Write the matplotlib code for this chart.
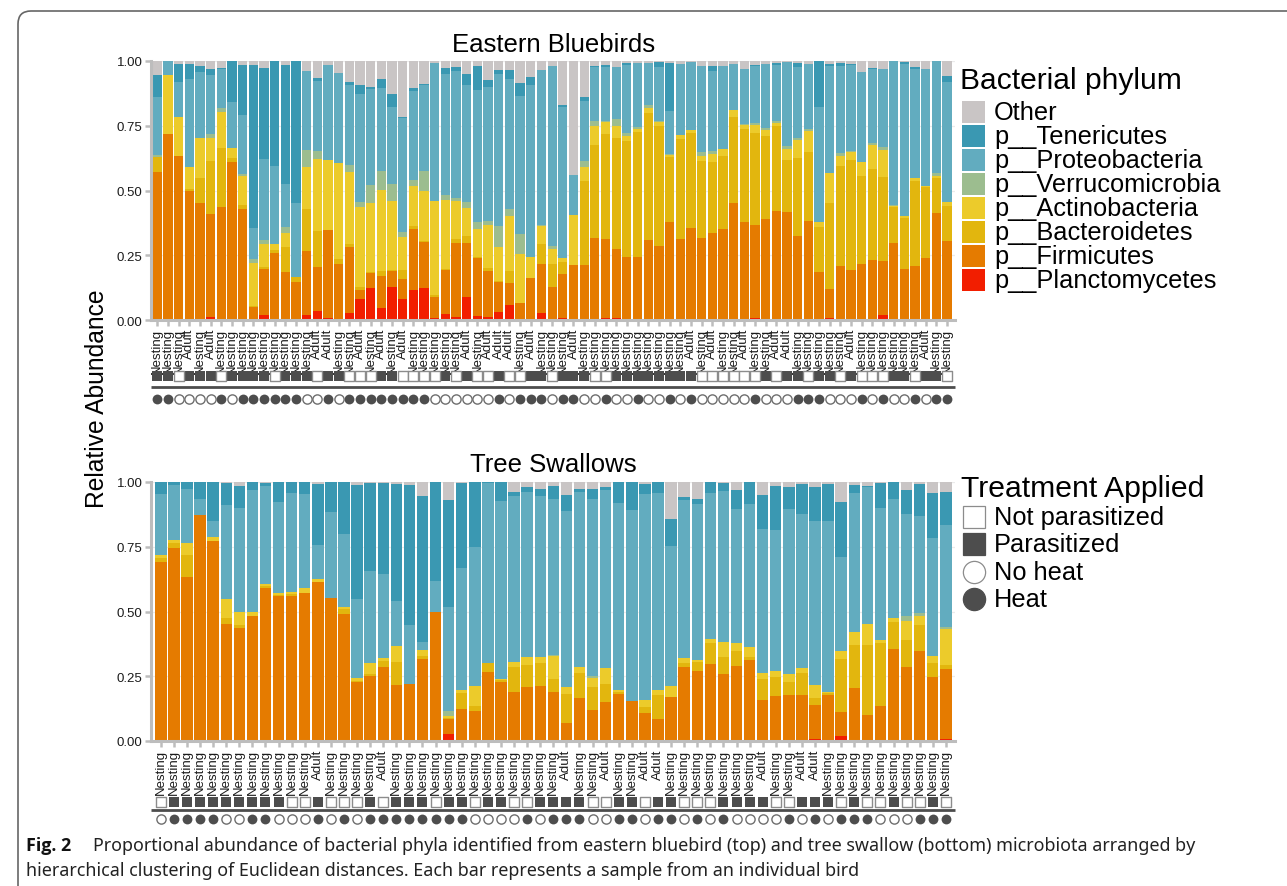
import numpy as np
import matplotlib.pyplot as plt
from matplotlib.lines import Line2D
from matplotlib.patches import FancyBboxPatch, Rectangle

plt.rcParams["font.family"] = ["Liberation Sans", "DejaVu Sans"]

W, H = 1287, 887

# phyla from the bottom of each stack upwards ("Other" fills to 1.0)
phyla = ["p__Planctomycetes", "p__Firmicutes", "p__Bacteroidetes", "p__Actinobacteria",
         "p__Verrucomicrobia", "p__Proteobacteria", "p__Tenericutes"]
phylum_colors = ["#f21e00", "#e57b00", "#e2b60e", "#eccb2b", "#9cbd8f", "#62acbf", "#3a98b2"]
other_color = "#c9c5c5"

# Eastern bluebirds - upper edge of each stacked segment
bb_planc = [0, 0, 0, 0, 0, .01, 0, 0, 0, 0, .02, 0, 0, 0, .02, .036, .008, 0, .028, .081,
            .124, .046, .129, .081, .117, .124, .008, .023, .01, .09, .015, .01, .032, .059, 0,
            0, .028, 0, .008, 0, 0, 0, .008, .008, 0, 0, 0, 0, 0, 0,
            0, 0, 0, 0, 0, 0, .008, 0, 0, 0, 0, 0, 0, .008, 0, 0, 0, 0, .019, 0,
            0, 0, 0, 0, 0]
bb_firm = [.573, .718, .635, .499, .452, .409, .436, .611, .429, .049, .197, .259, .185, .147, .268,
           .206, .349, .216, .283, .117, .18, .171, .19, .158, .351, .302, .09, .194, .297, .297,
           .239, .19, .145, .143, .066, .162, .216, .129, .178, .212, .212, .317, .313, .274, .245,
           .245, .309, .287, .38, .313, .355, .317, .336, .351, .452, .38, .367, .39, .422, .418,
           .326, .384, .187, .12, .21, .193, .216, .232, .229, .297, .197, .21, .239, .413, .306]
bb_bact = [.628, .718, .635, .506, .548, .615, .663, .625, .444, .053, .203, .27, .283, .166, .429,
           .345, .349, .236, .293, .129, .184, .19, .194, .193, .364, .306, .098, .197, .313, .326,
           .245, .201, .149, .188, .066, .162, .293, .216, .223, .212, .538, .677, .718, .703, .69,
           .725, .798, .75, .631, .699, .721, .613, .609, .632, .785, .737, .721, .712, .75, .618,
           .625, .647, .36, .452, .596, .618, .557, .583, .551, .435, .393, .538, .512, .547, .441]
bb_actino = [.628, .947, .785, .592, .703, .703, .804, .664, .557, .22, .293, .293, .336, .166, .592,
             .622, .618, .606, .573, .435, .452, .502, .461, .322, .518, .499, .461, .465, .458, .432,
             .351, .367, .283, .403, .255, .245, .364, .274, .239, .405, .589, .75, .763, .75, .712,
             .737, .819, .763, .638, .714, .734, .635, .641, .66, .811, .753, .754, .734, .761, .66,
             .695, .728, .38, .566, .635, .647, .611, .677, .656, .441, .403, .548, .519, .557, .457]
bb_verru = [.637, .947, .785, .592, .703, .718, .819, .664, .564, .236, .309, .293, .358, .166, .656,
            .651, .618, .606, .598, .457, .521, .577, .525, .341, .541, .574, .461, .483, .471, .457,
            .38, .384, .364, .429, .332, .245, .368, .286, .241, .405, .613, .77, .77, .776, .721,
            .746, .83, .77, .641, .714, .734, .647, .651, .66, .811, .757, .761, .741, .767, .671,
            .703, .737, .38, .566, .644, .654, .611, .683, .667, .445, .403, .548, .519, .568, .457]
bb_proteo = [.86, 1.0, .919, .93, .956, .947, .969, .843, .792, .355, .622, .595, .525, .452, .963,
             .924, .985, .952, .907, .873, .892, .896, .824, .78, .883, .907, .991, .95, .96, .907,
             .889, .901, .95, .931, .866, .909, .967, .979, .824, .561, .847, .976, .976, .976, .986,
             .991, .992, .978, .808, .988, .995, .982, .96, .979, .988, .969, .979, .988, .986, .995,
             .978, .988, .824, .982, .982, .986, .959, .969, .969, 1.0, .988, .969, .969, 1.0, .918]
bb_tener = [.947, 1.0, .988, .988, .981, .969, .973, 1.0, .985, .985, .973, 1.0, .985, 1.0, .963,
            .933, .985, .952, .919, .907, .901, .931, .873, .782, .894, .911, .991, .973, .976, .95,
            .979, .927, .965, .965, .915, .94, .967, .979, .83, .561, .86, .98, .986, .976, .991,
            .991, .992, .997, .992, .988, .995, .982, .979, .979, .988, .969, .985, .99, .992, .995,
            .992, .99, 1.0, .988, .992, .99, .959, .973, .969, 1.0, .995, .976, .969, 1.0, .943]
# N = Nesting, A = Adult; 1 = parasitized / heat
bb_age = ("NNNANA" "NNNNNNNNN" "AANNANANA" "NNNNN" "ANAAANANNNA" "NNNNNNNNNN"
          "ANANNANNAA" "NNNNN" "ANNNNNNANN")
bb_parasit = ("1101110111" "1011101100" "0110000101" "00100110" "11" "1001111111"
              "1000000101" "1011010001" "10110")
bb_heat = ("1100001011" "1111001011" "1111110000" "00101110" "11" "0010010010"
           "1000001000" "1110001010" "01011")

# Tree swallows
ts_planc = ([0] * 18 + [.004, 0, 0, 0, .028, 0, 0, 0, 0, 0, 0, .004] + [0] * 20
            + [.008, 0, .019] + [0] * 7 + [.008])
ts_firm = [.691, .744, .632, .872, .773, .453, .438, .482, .589, .558, .558, .57, .614, .552, .492,
           .229, .252, .287, .217, .221, .318, .497, .085, .124, .116, .265, .226, .19, .207, .214,
           .19, .071, .167, .12, .151, .182, .155, .109, .085, .171, .287, .271, .298, .26, .291,
           .314, .159, .174, .178, .178, .14, .178, .112, .205, .101, .136, .357, .287, .349, .248, .279]
ts_bact = [.705, .766, .717, .872, .773, .473, .447, .482, .598, .565, .568, .57, .614, .552, .508,
           .233, .26, .31, .306, .221, .33, .497, .09, .187, .137, .3, .234, .287, .292, .302,
           .24, .182, .264, .207, .221, .191, .155, .132, .178, .171, .3, .306, .38, .326, .349,
           .326, .24, .248, .229, .264, .167, .186, .318, .372, .372, .38, .461, .391, .446, .302, .295]
ts_actino = [.717, .776, .764, .872, .788, .547, .497, .497, .605, .57, .575, .589, .624, .552, .519,
             .245, .3, .322, .368, .221, .353, .497, .098, .198, .214, .3, .238, .306, .323, .326,
             .327, .209, .287, .244, .282, .198, .155, .159, .198, .213, .319, .314, .395, .384, .38,
             .364, .264, .271, .258, .283, .217, .19, .349, .419, .45, .391, .473, .465, .484, .329, .434]
ts_verru = [.717, .776, .764, .872, .788, .55, .497, .497, .607, .57, .575, .589, .624, .552, .519,
            .245, .3, .322, .368, .221, .353, .497, .116, .198, .214, .3, .238, .306, .323, .326,
            .333, .209, .287, .252, .282, .198, .155, .159, .198, .213, .319, .314, .395, .384, .38,
            .364, .264, .271, .258, .283, .217, .19, .349, .419, .453, .391, .473, .484, .496, .329, .442]
ts_proteo = [.953, .988, .973, .934, .85, .912, .899, .97, .984, .922, .957, .953, .756, .885, .798,
             .55, .655, .643, .539, .446, .381, .618, .516, .667, .749, .996, .926, .946, .961, .946,
             .934, .888, .961, .934, .969, .919, .891, .953, .957, .752, .93, .915, .957, .965, .895,
             .915, .818, .814, .895, .876, .849, .849, .709, .957, .981, .899, .934, .876, .868, .783, .833]
ts_tener = [1.0, 1.0, 1.0, 1.0, 1.0, .996, .984, 1.0, .996, 1.0, 1.0, 1.0, .992, 1.0, 1.0,
            .988, .996, .996, .992, .988, .946, 1.0, .93, .996, 1.0, 1.0, 1.0, .961, .981, .973,
            .984, .95, .973, .973, .981, 1.0, 1.0, .992, 1.0, .857, .942, .934, 1.0, .996, .969,
            1.0, .95, .984, .981, .992, .981, .992, .922, .988, .984, .996, 1.0, .969, .992, .957, .961]
ts_age = ("NNNNNNNNNNNN" "A" "NNNN" "A" "NNNNNNNNNNNNN" "A" "NN" "A" "NN" "AA"
          "NNNNNNN" "A" "NN" "AA" "NNNNNNNNNN")
ts_parasit = ("0111111111" "0010001011" "1011011001" "1110011011" "0001111001"
              "1101001001" "0")
ts_heat = ("0111100110" "0010101111" "1111000010" "1110011011" "0101000010"
           "1011100011" "1")

age_names = {"N": "Nesting", "A": "Adult"}
dark = "#4d4d4d"
axis_grey = "#bdbdbd"

fig = plt.figure(figsize=(W / 100, H / 100), dpi=100)


def draw_panel(rect, cum_tops, age, parasit, heat, xlim, y_sq, y_line, y_circ):
    ax = fig.add_axes(rect)
    n = len(age)
    x = np.arange(n)
    bottom = np.zeros(n)
    for top, color in zip(cum_tops, phylum_colors):
        top = np.asarray(top, dtype=float)
        ax.bar(x, top - bottom, bottom=bottom, width=0.87, color=color, linewidth=0, zorder=2)
        bottom = top
    ax.bar(x, 1.0 - bottom, bottom=bottom, width=0.87, color=other_color, linewidth=0, zorder=2)

    ax.set_xlim(*xlim)
    ax.set_ylim(0, 1)
    ax.set_yticks([0, .25, .5, .75, 1.0], ["0.00", "0.25", "0.50", "0.75", "1.00"])
    ax.set_xticks(x, [age_names[c] for c in age], rotation=90)
    ax.tick_params(axis="y", labelsize=9.5, length=4, width=1.8, color=axis_grey,
                   labelcolor="#1a1a1a", pad=2)
    ax.tick_params(axis="x", labelsize=9.5, length=4, width=1.8, color=axis_grey,
                   labelcolor="#1a1a1a", pad=1.5)
    for s in ["top", "right"]:
        ax.spines[s].set_visible(False)
    for s in ["left", "bottom"]:
        ax.spines[s].set_color(axis_grey)
        ax.spines[s].set_linewidth(2.2)
    ax.set_axisbelow(True)
    ax.yaxis.grid(True, color="#ebebeb", lw=0.9)

    # treatment markers under the sample labels
    tr = ax.get_xaxis_transform()
    para = np.array([c == "1" for c in parasit])
    hot = np.array([c == "1" for c in heat])
    ax.scatter(x[para], np.full(para.sum(), y_sq), marker="s", s=52, color=dark,
               linewidths=0, transform=tr, clip_on=False)
    ax.scatter(x[~para], np.full((~para).sum(), y_sq), marker="s", s=42, facecolor="white",
               edgecolor="#8c8c8c", linewidths=1.0, transform=tr, clip_on=False)
    ax.plot([xlim[0], xlim[1]], [y_line, y_line], color=dark, lw=2.0, transform=tr,
            clip_on=False, solid_capstyle="butt")
    ax.scatter(x[hot], np.full(hot.sum(), y_circ), marker="o", s=50, color=dark,
               linewidths=0, transform=tr, clip_on=False)
    ax.scatter(x[~hot], np.full((~hot).sum(), y_circ), marker="o", s=44, facecolor="white",
               edgecolor="#6e6e6e", linewidths=1.0, transform=tr, clip_on=False)
    return ax


bb_tops = [bb_planc, bb_firm, bb_bact, bb_actino, bb_verru, bb_proteo, bb_tener]
ts_tops = [ts_planc, ts_firm, ts_bact, ts_actino, ts_verru, ts_proteo, ts_tener]

draw_panel([151 / W, 1 - 321 / H, 804 / W, 259 / H], bb_tops, bb_age, bb_parasit, bb_heat,
           (-0.59, 74.75), -0.216, -0.259, -0.305)
draw_panel([151 / W, 1 - 742 / H, 804 / W, 259 / H], ts_tops, ts_age, ts_parasit, ts_heat,
           (-0.75, 60.7), -0.236, -0.266, -0.301)

fig.text(554 / W, 1 - 45 / H, "Eastern Bluebirds", ha="center", va="center", fontsize=18.5)
fig.text(553 / W, 1 - 465 / H, "Tree Swallows", ha="center", va="center", fontsize=18.5)
fig.text(97 / W, 1 - 399 / H, "Relative Abundance", rotation=90, ha="center", va="center",
         fontsize=17.7)

# legend: bacterial phylum
fig.text(960 / W, 1 - 81 / H, "Bacterial phylum", ha="left", va="center", fontsize=21.6)
legend_names = ["Other"] + phyla[::-1]
legend_cols = [other_color] + phylum_colors[::-1]
for i, (name, col) in enumerate(zip(legend_names, legend_cols)):
    yc = 113 + i * 24.0
    fig.add_artist(Rectangle((962 / W, 1 - (yc + 11) / H), 23 / W, 22 / H,
                             transform=fig.transFigure, facecolor=col, edgecolor="none"))
    fig.text(994 / W, 1 - yc / H, name, ha="left", va="center", fontsize=18.3)

# legend: treatment applied
fig.text(961 / W, 1 - 489 / H, "Treatment Applied", ha="left", va="center", fontsize=21.7)
treat = [("Not parasitized", "s", "white", "#8c8c8c"), ("Parasitized", "s", dark, dark),
         ("No heat", "o", "white", "#8c8c8c"), ("Heat", "o", dark, dark)]
for i, (name, mk, fc, ec) in enumerate(treat):
    yc = 518 + i * 27.3
    fig.add_artist(Line2D([973.5 / W], [1 - yc / H], marker=mk, markersize=16,
                          markerfacecolor=fc, markeredgecolor=ec, markeredgewidth=0.9,
                          linestyle="none", transform=fig.transFigure))
    fig.text(994 / W, 1 - yc / H, name, ha="left", va="center", fontsize=18.3)

# caption
cap_font = ["Noto Sans", "DejaVu Sans"]
fig.text(26 / W, 1 - 846 / H, "Fig. 2", ha="left", va="center", fontsize=12.9,
         fontweight="bold", family=["Open Sans", "DejaVu Sans"], color="#111111")
fig.text(93 / W, 1 - 846 / H,
         "Proportional abundance of bacterial phyla identified from eastern bluebird (top) and "
         "tree swallow (bottom) microbiota arranged by",
         ha="left", va="center", fontsize=12.9, family=cap_font, color="#222222")
fig.text(26 / W, 1 - 871 / H,
         "hierarchical clustering of Euclidean distances. Each bar represents a sample from an "
         "individual bird",
         ha="left", va="center", fontsize=12.9, family=cap_font, color="#222222")

# rounded frame around the whole figure
fig.add_artist(FancyBboxPatch((0.18, -1.0), 20, 9.75, boxstyle="round,pad=0,rounding_size=0.13",
                              transform=fig.dpi_scale_trans, facecolor="none",
                              edgecolor="#666666", lw=1.2))

fig.savefig("out.png", dpi=100)
